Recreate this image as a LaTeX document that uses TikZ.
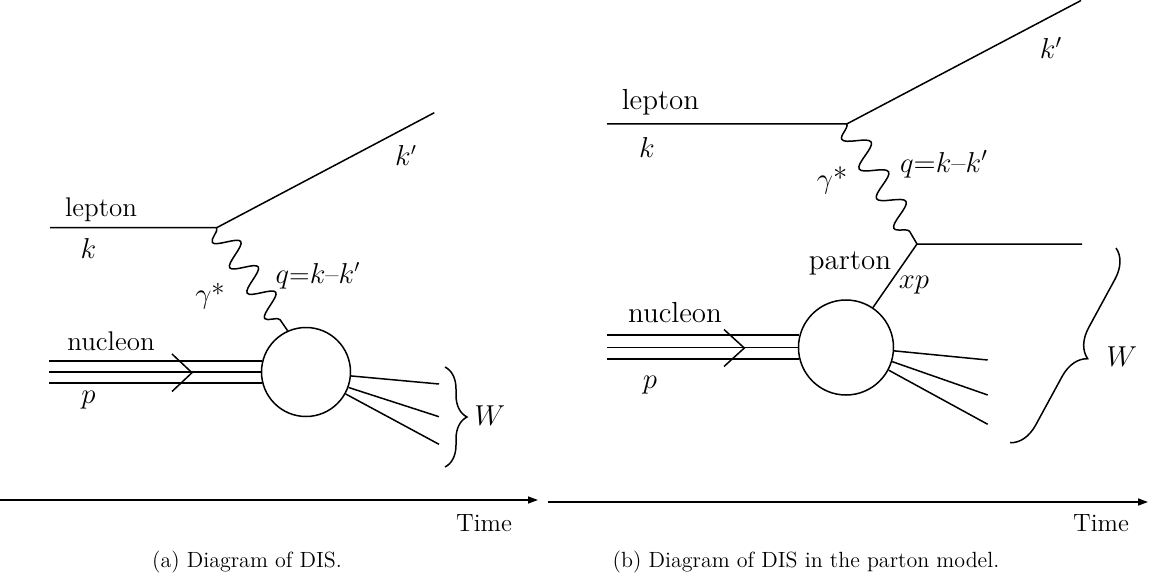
\documentclass[tikz,border=0pt]{standalone}
\usetikzlibrary{decorations.pathmorphing,decorations.pathreplacing,arrows.meta,calc}
\begin{document}
\begin{tikzpicture}[x=0.5pt,y=-0.5pt,
  ln/.style={line width=0.75pt},
  lbl/.style={font=\fontsize{13.5}{16}\selectfont, inner sep=0pt, anchor=base},
  lblb/.style={font=\fontsize{14.5}{17}\selectfont, inner sep=0pt, anchor=base},
  blob/.style={circle, draw, line width=0.75pt, inner sep=0pt},
  photon/.style={line width=0.75pt, decorate, decoration={snake, amplitude=-6pt, segment length=#1}},
  brc/.style={line width=0.75pt, decorate, decoration={brace, amplitude=#1}},
  timeax/.style={line width=0.75pt, -{Triangle[length=5pt,width=3.5pt]}},
  tlbl/.style={font=\fontsize{12.5}{14}\selectfont, inner sep=0pt, anchor=base},
  captxt/.style={font=\fontsize{11}{13}\selectfont, inner sep=0pt, anchor=base}
]
\useasboundingbox (0,0) rectangle (1152,583);

% ---------- (a) ----------
\coordinate (lin) at (50,227.7);
\coordinate (v1) at (216.7,227.7);
\coordinate (kout) at (434.3,112.7);
\node[blob, minimum size=44.5pt] (c1) at (306,372) {};
\coordinate (ns1) at (49,372);
\draw[ln] (lin) -- (v1) -- (kout);
\draw[photon=15.4pt] (v1) -- (c1.114);
\foreach \a in {166,180,194} \draw[ln] (c1.\a) -- (c1.\a -| ns1);
\coordinate (ch1a) at (172,354);
\coordinate (ch1t) at (192,372.7);
\coordinate (ch1b) at (172,391.5);
\draw[ln] (ch1a) -- (ch1t) -- (ch1b);
\coordinate (o11) at (439,384);
\coordinate (o12) at (439,416.7);
\coordinate (o13) at (439,444.3);
\draw[ln] (c1.-5) -- (o11);
\draw[ln] (c1.-20) -- (o12);
\draw[ln] (c1.-29) -- (o13);
\coordinate (b1t) at (445,367);
\coordinate (b1b) at (445,467);
\draw[brc=11pt] (b1t) -- (b1b);

\node[lbl] (lep1) at (101,216) {lepton};
\node[lbl] (k1) at (88.5,258) {$k$};
\node[lbl] (kp1) at (406,166) {$k'$};
\node[lbl] (g1) at (210,303) {$\gamma$*};
\node[lbl] (q1) at (318,283) {$q$=$k$–$k'$};
\node[lbl] (nuc1) at (111,350) {nucleon};
\node[lbl] (p1) at (88.5,403) {$p$};
\node[lbl] (W1) at (490,425) {$W$};

\coordinate (t1s) at (0,500);
\coordinate (t1e) at (538,500);
\draw[timeax] (t1s) -- (t1e);
\node[tlbl] (time1) at (484,531) {Time};
\node[captxt] (capa) at (247,567) {(a) Diagram of DIS.};

% ---------- (b) ----------
\coordinate (lin2) at (607,124);
\coordinate (v2) at (846.7,124);
\coordinate (kout2) at (1081,0.5);
\node[blob, minimum size=47.5pt] (c2) at (846,347.5) {};
\coordinate (ns2) at (607,347.5);
\coordinate (v3) at (917,244);
\coordinate (qout) at (1082,244);
\draw[ln] (lin2) -- (v2) -- (kout2);
\draw[photon=17.2pt] (v2) -- (v3);
\draw[ln] (c2.56) -- (v3) -- (qout);
\foreach \a in {165.4,180,194.6} \draw[ln] (c2.\a) -- (c2.\a -| ns2);
\coordinate (ch2a) at (724,329.5);
\coordinate (ch2t) at (744.3,348);
\coordinate (ch2b) at (724,366.5);
\draw[ln] (ch2a) -- (ch2t) -- (ch2b);
\coordinate (o21) at (987.7,360);
\coordinate (o22) at (987.7,395);
\coordinate (o23) at (987.7,424.3);
\draw[ln] (c2.-4) -- (o21);
\draw[ln] (c2.-17) -- (o22);
\draw[ln] (c2.-28) -- (o23);
\coordinate (b2t) at (1116,248);
\coordinate (b2b) at (1010,443);
\draw[brc=14pt] (b2t) -- (b2b);

\node[lblb] (lep2) at (660.5,110) {lepton};
\node[lblb] (k2) at (647,158) {$k$};
\node[lblb] (kp2) at (1051,59) {$k'$};
\node[lblb] (g2) at (832,189) {$\gamma$*};
\node[lblb] (q2) at (944,172) {$q$=$k$–$k'$};
\node[lblb] (par) at (850,270) {parton};
\node[lblb] (xp) at (914,288) {$xp$};
\node[lblb] (nuc2) at (675,322) {nucleon};
\node[lblb] (p2) at (650,388) {$p$};
\node[lblb] (W2) at (1122,366.7) {$W$};

\coordinate (t2s) at (548,502);
\coordinate (t2e) at (1148,502);
\draw[timeax] (t2s) -- (t2e);
\node[tlbl] (time2) at (1101,531) {Time};
\node[captxt] (capb) at (806,567) {(b) Diagram of DIS in the parton model.};
\end{tikzpicture}
\end{document}
